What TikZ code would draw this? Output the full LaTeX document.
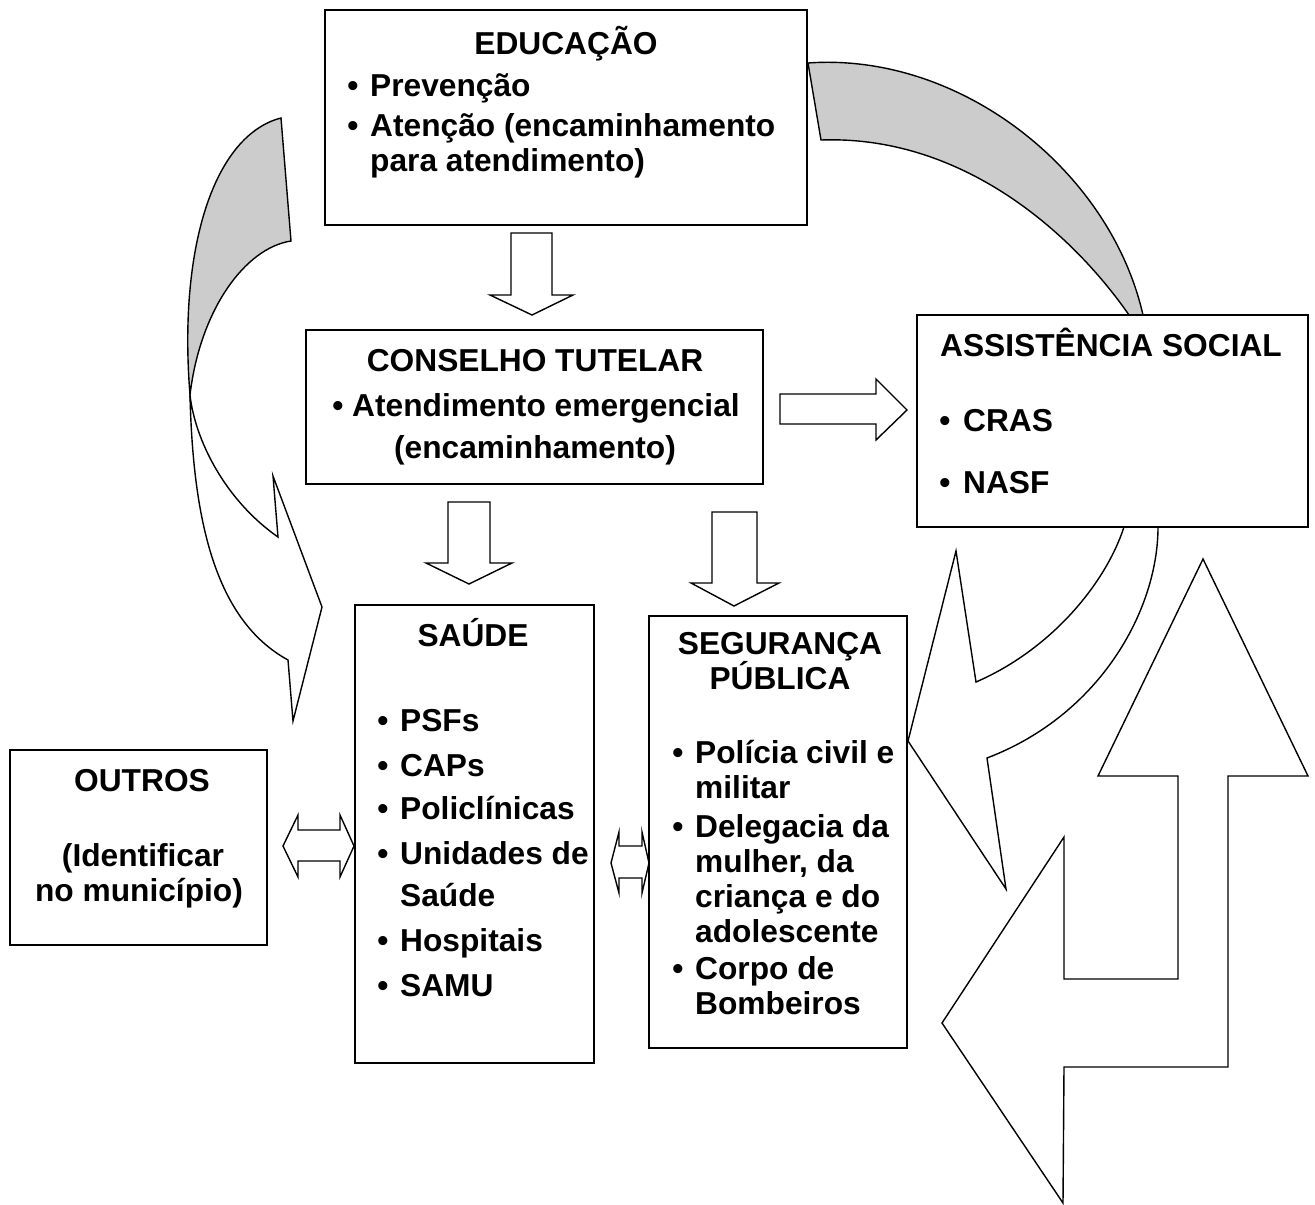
\documentclass[tikz,border=0pt]{standalone}
\usepackage{fontspec}
\setmainfont{Liberation Sans}
\definecolor{shade}{HTML}{CCCCCC}
\begin{document}
\begin{tikzpicture}[x=1pt,y=-1pt,
  box/.style={draw, line width=1.8pt, fill=white, inner sep=0pt},
  blk/.style={draw, line width=1.4pt, fill=white, line join=miter},
  back/.style={draw, line width=1.4pt, fill=shade},
  txt/.style={font=\bfseries\fontsize{31.7}{36}\selectfont, inner sep=0pt},
  ttl/.style={txt, anchor=base},
  itm/.style={txt, anchor=base west},
  bul/.style={txt, anchor=base}]
\useasboundingbox (0,0) rectangle (1315,1205);

% ---- curved arrow left (Educacao -> Outros)
\draw[back] (281,118) .. controls (215,135) and (178,245) .. (190,395)
  .. controls (200,310) and (245,248) .. (291,241) -- cycle;
\draw[blk] (190,395) .. controls (195,440) and (225,500) .. (278,537)
  -- (273,476) -- (322,607) -- (293,721) -- (288,660)
  .. controls (215,620) and (193,520) .. (190,395) -- cycle;

% ---- curved arrow right (Educacao -> Assistencia -> Seguranca)
\draw[back] (808,63) .. controls (960,52) and (1110,170) .. (1143,315)
  -- (1129,315) .. controls (1070,230) and (960,135) .. (821,140) -- cycle;
\draw[blk] (1158,527) .. controls (1158,610) and (1100,715) .. (987,758)
  -- (1006,889) -- (908,741) -- (956,551) -- (976,682)
  .. controls (1050,650) and (1105,585) .. (1124,527) -- cycle;

% ---- bent up-left arrow
\draw[blk] (1203,559) -- (1308,776) -- (1228,776) -- (1228,1067) -- (1064,1067)
  -- (1063,1203) -- (942,1023) -- (1064,837) -- (1064,979) -- (1178,979)
  -- (1178,776) -- (1098,776) -- cycle;

% ---- boxes
\node[box, minimum width=482pt, minimum height=215pt] (edu) at (566,117.5) {};
\node[box, minimum width=457pt, minimum height=154pt] (ct) at (534.5,407) {};
\node[box, minimum width=391pt, minimum height=212pt] (as) at (1112.5,421) {};
\node[box, minimum width=239pt, minimum height=458pt] (sa) at (474.5,834) {};
\node[box, minimum width=258pt, minimum height=432pt] (sp) at (778,832) {};
\node[box, minimum width=257pt, minimum height=195pt] (ou) at (138.5,847.5) {};

% ---- block arrows
\draw[blk] (511,233) -- (552,233) -- (552,295) -- (573,295) -- (532,315)
  -- (490,295) -- (511,295) -- cycle;
\draw[blk] (448,502) -- (490,502) -- (490,563) -- (512,563) -- (469,584)
  -- (426,563) -- (448,563) -- cycle;
\draw[blk] (712,512) -- (757,512) -- (757,583) -- (779,583) -- (734,606)
  -- (691,583) -- (712,583) -- cycle;
\draw[blk] (780,394) -- (876,394) -- (876,379) -- (907,410) -- (876,440)
  -- (876,424) -- (780,424) -- cycle;
\draw[blk] (283,846) -- (298,815) -- (298,830) -- (340,830) -- (340,815)
  -- (354,846) -- (340,877) -- (340,861) -- (298,861) -- (298,877) -- cycle;
\draw[blk] (611,863) -- (619,832) -- (619,846) -- (642,846) -- (642,832)
  -- (649,863) -- (642,893) -- (642,878) -- (619,878) -- (619,893) -- cycle;

% ---- EDUCACAO text
\node[ttl] (edut) at (566,54) {EDUCAÇÃO};
\node[bul] (edub1) at (353,96) {•};
\node[itm] (edu1) at (370,96) {Prevenção};
\node[bul] (edub2) at (353,136) {•};
\node[itm] (edu2) at (370,136) {Atenção (encaminhamento};
\node[itm] (edu3) at (370,171) {para atendimento)};

% ---- CONSELHO text
\node[ttl] (ctt) at (535,371) {CONSELHO TUTELAR};
\node[bul] (ctb1) at (338,416) {•};
\node[itm] (ct1) at (352,416) {Atendimento emergencial};
\node[ttl] (ct2) at (535,458) {(encaminhamento)};

% ---- ASSISTENCIA text
\node[ttl] (ast) at (1111,356) {ASSISTÊNCIA SOCIAL};
\node[bul] (asb1) at (945,431) {•};
\node[itm] (as1) at (963,431) {CRAS};
\node[bul] (asb2) at (945,493) {•};
\node[itm] (as2) at (963,493) {NASF};

% ---- SAUDE text
\node[ttl] (sat) at (473,646) {SAÚDE};
\node[bul] (sab1) at (383,731) {•};
\node[itm] (sa1) at (400,731) {PSFs};
\node[bul] (sab2) at (383,776) {•};
\node[itm] (sa2) at (400,776) {CAPs};
\node[bul] (sab3) at (383,819) {•};
\node[itm] (sa3) at (400,819) {Policlínicas};
\node[bul] (sab4) at (383,864) {•};
\node[itm] (sa4) at (400,864) {Unidades de};
\node[itm] (sa5) at (400,906) {Saúde};
\node[bul] (sab6) at (383,951) {•};
\node[itm] (sa6) at (400,951) {Hospitais};
\node[bul] (sab7) at (383,996) {•};
\node[itm] (sa7) at (400,996) {SAMU};

% ---- SEGURANCA text
\node[ttl] (spt1) at (780,654) {SEGURANÇA};
\node[ttl] (spt2) at (780,689) {PÚBLICA};
\node[bul] (spb1) at (678,763) {•};
\node[itm] (sp1) at (695,763) {Polícia civil e};
\node[itm] (sp2) at (695,798) {militar};
\node[bul] (spb3) at (678,837) {•};
\node[itm] (sp3) at (695,837) {Delegacia da};
\node[itm] (sp4) at (695,872) {mulher, da};
\node[itm] (sp5) at (695,907) {criança e do};
\node[itm] (sp6) at (695,942) {adolescente};
\node[bul] (spb7) at (678,979) {•};
\node[itm] (sp7) at (695,979) {Corpo de};
\node[itm] (sp8) at (695,1014) {Bombeiros};

% ---- OUTROS text
\node[ttl] (out) at (142,791) {OUTROS};
\node[ttl] (ou1) at (143,866) {(Identificar};
\node[ttl] (ou2) at (139,901) {no município)};
\end{tikzpicture}
\end{document}
